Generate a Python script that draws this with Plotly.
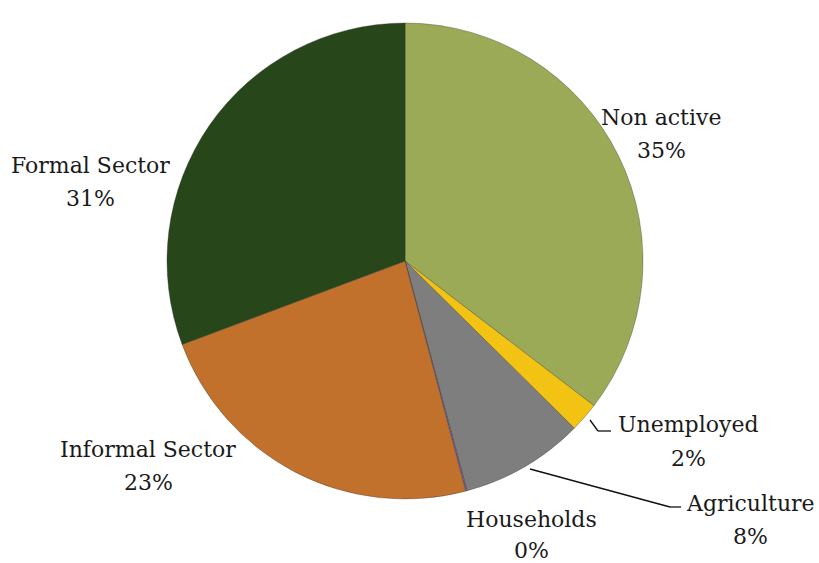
import plotly.graph_objects as go

# Population by activity status (share of total)
labels = ["Non active", "Unemployed", "Agriculture", "Households", "Informal Sector", "Formal Sector"]
values = [35.4, 2.0, 8.4, 0.1, 23.4, 30.7]
colors = ["#9BAA56", "#F2C313", "#7E7E7E", "#7A5FA0", "#C2712D", "#27461A"]

W, H = 819, 563
cx, cy, r = 405, 261, 238  # pie centre and radius in pixels

total = sum(values)
pct = [f"{round(v / total * 100)}%" for v in values]

fig = go.Figure(go.Pie(
    labels=labels,
    values=values,
    sort=False,
    direction="clockwise",
    rotation=0,
    textinfo="none",
    hoverinfo="label+percent",
    marker=dict(colors=colors, line=dict(color="rgba(40,40,40,0.55)", width=0.6)),
    domain=dict(x=[(cx - r) / W, (cx + r) / W], y=[(H - cy - r) / H, (H - cy + r) / H]),
    showlegend=False,
))

# Label placement (pixel centres of the name line and the percent line)
label_pos = {
    "Non active": (661, 117, 150),
    "Unemployed": (688, 424, 458),
    "Agriculture": (750, 503, 536),
    "Households": (531, 519, 550),
    "Informal Sector": (148, 449, 482),
    "Formal Sector": (90, 165, 198),
}

font = dict(family="DejaVu Serif", size=22, color="#1A1A1A")
for name, p in zip(labels, pct):
    x, y1, y2 = label_pos[name]
    for txt, y in ((name, y1), (p, y2)):
        fig.add_annotation(x=x / W, y=1 - y / H, xref="paper", yref="paper",
                           text=txt, showarrow=False, font=font,
                           xanchor="center", yanchor="middle")

# Leader lines
leaders = [
    [(590, 420), (598, 431), (611, 431)],
    [(530, 469), (670, 507), (681, 507)],
]
for pts in leaders:
    for (x0, y0), (x1, y1) in zip(pts[:-1], pts[1:]):
        fig.add_shape(type="line", xref="paper", yref="paper",
                      x0=x0 / W, y0=1 - y0 / H, x1=x1 / W, y1=1 - y1 / H,
                      line=dict(color="#111111", width=1.3))

fig.update_layout(
    width=W, height=H,
    margin=dict(l=0, r=0, t=0, b=0),
    paper_bgcolor="white",
    plot_bgcolor="white",
)

fig.write_html("out.html")
